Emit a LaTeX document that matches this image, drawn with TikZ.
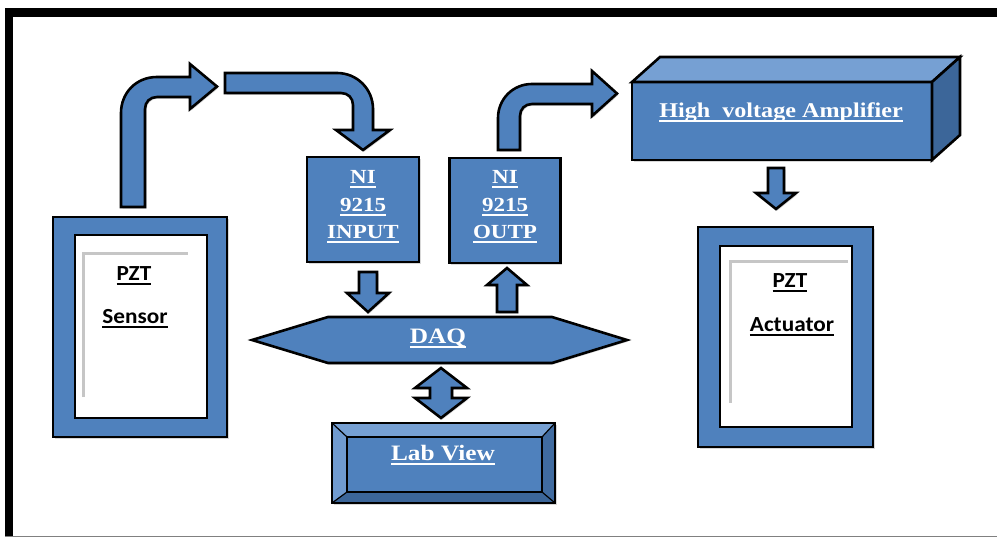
\documentclass[tikz,border=0pt]{standalone}
\usepackage{fontspec}
\setmainfont{Liberation Serif}
\newfontfamily\tnrfont[FakeStretch=1.15]{Liberation Serif}
\newfontfamily\calfont[FakeStretch=1.08]{Carlito}
\usetikzlibrary{shadows}
\definecolor{ofblue}{HTML}{4F81BD}
\definecolor{oflight}{HTML}{76A0D3}
\definecolor{ofdark}{HTML}{3C6699}
\newcommand{\myul}[1]{\setbox0=\hbox{#1}\leavevmode\rlap{\rule[-4.5pt]{\wd0}{1.6pt}}\box0}
\tikzset{
  outl/.style={draw=black, line width=2.6pt, line join=miter},
  bluebox/.style={outl, fill=ofblue, inner sep=0pt, outer sep=0pt,
     drop shadow={shadow xshift=1.5pt, shadow yshift=-1.5pt, opacity=0.3}},
  blockarrow/.style={outl, fill=ofblue,
     drop shadow={shadow xshift=1.5pt, shadow yshift=-1.5pt, opacity=0.3}},
  whitein/.style={outl, fill=white, inner sep=0pt, outer sep=0pt},
  wlabel/.style={text=white, inner sep=0pt, anchor=base,
     font=\tnrfont\bfseries\fontsize{20}{24}\selectfont},
  blabel/.style={text=black, inner sep=0pt, anchor=base,
     font=\calfont\bfseries\fontsize{21.5}{24}\selectfont},
  innershadow/.style={draw=gray!45, line width=3pt}
}
\begin{document}
\begin{tikzpicture}[x=1pt,y=-1pt]
\useasboundingbox (0,0) rectangle (997,538);
\fill[white] (0,0) rectangle (997,538);
% outer frame
\fill[black] (5,8) rectangle (997,17);
\fill[black] (5,8) rectangle (13,536);
\draw[gray, line width=1pt] (5,536) -- (997,536);

% PZT sensor
\node[bluebox, minimum width=174, minimum height=220] (sensor) at (140,327) {};
\node[whitein, minimum width=132, minimum height=183] (sensorin) at (141,326.5) {};
\draw[innershadow] (83,397) -- (83,253) -- (188,253);
\node[blabel] (pzt1) at (134,280) {\myul{PZT}};
\node[blabel] (sens) at (135,323) {\myul{Sensor}};

% PZT actuator
\node[bluebox, minimum width=175, minimum height=220] (act) at (785.5,337) {};
\node[whitein, minimum width=132, minimum height=181] (actin) at (786,336.5) {};
\draw[innershadow] (730,403) -- (730,261) -- (848,261);
\node[blabel] (pzt2) at (790,287) {\myul{PZT}};
\node[blabel] (actl) at (792,331) {\myul{Actuator}};

% NI input / output
\node[bluebox, minimum width=112, minimum height=105] (niin) at (363,209.5) {};
\node[wlabel] (ni1) at (363,183) {\myul{NI}};
\node[wlabel] (ni2) at (363,211) {\myul{9215}};
\node[wlabel] (ni3) at (363,238) {\myul{INPUT}};
\node[bluebox, minimum width=111, minimum height=105] (niout) at (505,210.5) {};
\node[wlabel] (no1) at (505,183) {\myul{NI}};
\node[wlabel] (no2) at (505,211) {\myul{9215}};
\node[wlabel] (no3) at (505,238) {\myul{OUTP}};

% High voltage amplifier (3D box)
\node[bluebox, minimum width=300, minimum height=78] (amp) at (782,121) {};
\draw[outl, fill=oflight] (amp.north west) -- ++(28,-25) -- ++(300,0) -- (amp.north east) -- cycle;
\draw[outl, fill=ofdark] (amp.north east) -- ++(28,-25) -- ++(0,78) -- (amp.south east) -- cycle;
\node[wlabel, font=\tnrfont\bfseries\fontsize{21}{24}\selectfont] (ampl) at (781,117) {\myul{High\ \ voltage Amplifier}};

% DAQ hexagon
\coordinate (dL) at (252,340);
\coordinate (dR) at (627,340);
\draw[blockarrow] (dL) -- (328,317) -- (552,317) -- (dR) -- (552,363) -- (328,363) -- cycle;
\node[wlabel, font=\tnrfont\bfseries\fontsize{22}{24}\selectfont] (daq) at (438,343) {\myul{DAQ}};

% Lab View bevel box
\node[bluebox, minimum width=223, minimum height=80] (lab) at (443.5,463) {};
\coordinate (li1) at (347,437);
\coordinate (li2) at (542,437);
\coordinate (li3) at (542,492);
\coordinate (li4) at (347,492);
\fill[oflight] (lab.north west) -- (lab.north east) -- (li2) -- (li1) -- cycle;
\fill[oflight!85!ofblue] (lab.north west) -- (li1) -- (li4) -- (lab.south west) -- cycle;
\fill[ofdark] (lab.south west) -- (li4) -- (li3) -- (lab.south east) -- cycle;
\fill[ofdark!80!ofblue] (lab.north east) -- (li2) -- (li3) -- (lab.south east) -- cycle;
\draw[outl] (lab.north west) rectangle (lab.south east);
\draw[outl, line width=1.2pt] (lab.north west) -- (li1) (lab.north east) -- (li2)
   (lab.south east) -- (li3) (lab.south west) -- (li4);
\draw[outl] (li1) rectangle (li3);
\node[wlabel, font=\tnrfont\bfseries\fontsize{22}{24}\selectfont] (labl) at (443,460) {\myul{Lab View}};

% Arrow 1: sensor -> up -> right
\draw[blockarrow] (121,207) -- (121,113)
   .. controls (121,93) and (136,77) .. (157,77) -- (190,77)
   -- (190,64) -- (217,86.5) -- (190,109) -- (190,97) -- (157,97)
   .. controls (150,97) and (145,102) .. (145,109) -- (145,207) -- cycle;

% Arrow 2: right -> down into NI input
\draw[blockarrow] (225,73) -- (337,73)
   .. controls (357,73) and (373,89) .. (373,109) -- (373,130)
   -- (390,130) -- (363,150) -- (336,130) -- (353,130) -- (353,105)
   .. controls (353,98) and (348,93) .. (341,93) -- (225,93) -- cycle;

% Arrow 3: NI output -> up -> right to amplifier
\draw[blockarrow] (498,150) -- (498,118)
   .. controls (498,99) and (513,84) .. (532,84) -- (592,84)
   -- (592,71) -- (617,93.5) -- (592,116) -- (592,104) -- (532,104)
   .. controls (525,104) and (520,109) .. (520,116) -- (520,150) -- cycle;

% Arrow 4: amplifier -> actuator
\draw[blockarrow] (768,168) -- (784,168) -- (784,193) -- (796,193) -- (776,209)
   -- (756,193) -- (768,193) -- cycle;

% Arrow NI input -> DAQ
\draw[blockarrow] (359,272) -- (377,272) -- (377,293) -- (389,293) -- (368,312)
   -- (347,293) -- (359,293) -- cycle;

% Arrow DAQ -> NI output
\draw[blockarrow] (497,312) -- (517,312) -- (517,285) -- (527,285) -- (507,268)
   -- (487,285) -- (497,285) -- cycle;

% Double arrow DAQ <-> Lab View
\draw[blockarrow] (441,368) -- (467,388) -- (452,388) -- (452,398) -- (467,398)
   -- (441,418) -- (415,398) -- (430,398) -- (430,388) -- (415,388) -- cycle;
\end{tikzpicture}
\end{document}
